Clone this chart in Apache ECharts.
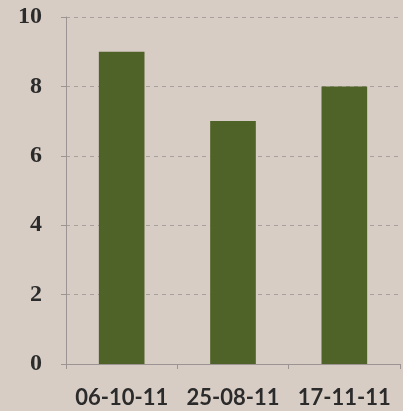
<!DOCTYPE html>
<html><head><meta charset="utf-8">
<script src="https://cdn.jsdelivr.net/npm/echarts@6/dist/echarts.min.js"></script>
<style>html,body{margin:0;padding:0;background:#d8cdc5;}#c{width:403px;height:411px;}</style>
</head><body><div id="c"></div>
<script>
var categories = ['06-10-11', '25-08-11', '17-11-11'];
var values = [9, 7, 8];
var yTicks = [0, 2, 4, 6, 8, 10];

var chart = echarts.init(document.getElementById('c'));
chart.setOption({
  backgroundColor: '#d8cdc5',
  animation: false,
  grid: {left: 66, right: 3, top: 17, bottom: 47},
  xAxis: {
    type: 'category', data: categories,
    axisLine: {lineStyle: {color: '#9c9492', width: 1}},
    axisTick: {show: true, length: 5, lineStyle: {color: '#9c9492'}},
    axisLabel: {color: '#2b2b2b', fontSize: 22, fontFamily: 'Lato', fontWeight: 'bold', margin: 23, interval: 0, hideOverlap: false}
  },
  yAxis: {
    type: 'value', min: yTicks[0], max: yTicks[yTicks.length-1], interval: 2,
    axisLine: {show: true, lineStyle: {color: '#9c9492', width: 1}},
    axisTick: {show: true, length: 5, lineStyle: {color: '#9c9492'}},
    axisLabel: {color: '#2b2b2b', fontSize: 24, fontFamily: 'Liberation Serif', fontWeight: 'bold', margin: 24},
    splitLine: {lineStyle: {color: '#a8a09c', type: [4, 4]}}
  },
  series: [{
    type: 'bar', data: values, barWidth: '41%',
    itemStyle: {color: '#4f6228'}
  }]
});
</script></body></html>
